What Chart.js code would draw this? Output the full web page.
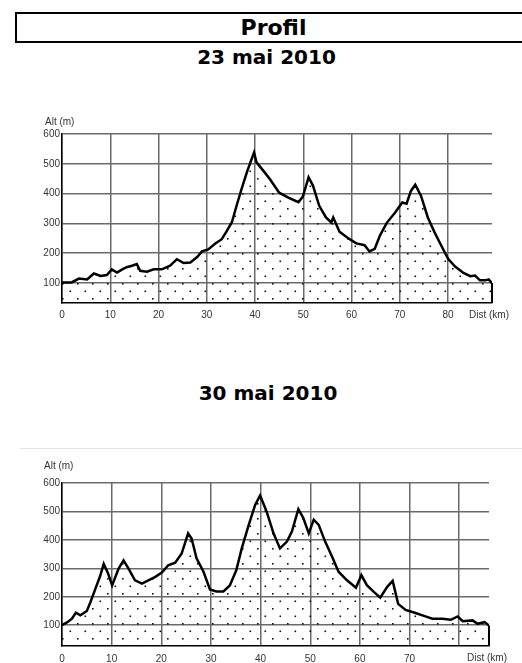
<!DOCTYPE html>
<html>
<head>
<meta charset="utf-8">
<script src="https://cdn.jsdelivr.net/npm/chart.js@4/dist/chart.umd.min.js"></script>
<style>
body{margin:0;background:#fff;width:522px;height:663px;position:relative;overflow:hidden;font-family:"DejaVu Sans",Verdana,sans-serif}
.box{position:absolute;left:15px;top:12px;width:520px;height:27px;border:2px solid #000}
.t{position:absolute;font-weight:bold;text-align:center;white-space:nowrap;width:300px}
.sep{position:absolute;left:20px;top:448px;width:502px;height:1px;background:#e3e3e3}
.wrap{position:absolute;left:0;width:522px}
</style>
</head>
<body>
<div class="box"></div>
<div class="t" style="left:123.5px;top:17px;font-size:22px;line-height:22px">Profil</div>
<div class="t" style="left:116.5px;top:47px;font-size:20px;line-height:20px">23 mai 2010</div>
<div class="sep"></div>
<div class="t" style="left:118px;top:383px;font-size:20px;line-height:20px">30 mai 2010</div>
<div class="wrap" style="top:100px;height:230px"><canvas id="c1" width="522" height="230"></canvas></div>
<div class="wrap" style="top:440px;height:223px"><canvas id="c2" width="522" height="223"></canvas></div>
<script>
// 23 mai 2010
const distA = [0, 2, 3.5, 5.2, 6.6, 8, 9.3, 10.3, 11.4, 12.4, 13.4, 14.5, 15.5, 16.2, 17.6, 19, 20.7, 22.4, 23.8, 25.2, 26.6, 28, 29, 30.3, 31.7, 33.1, 34.1, 35.2, 36.2, 37.2, 38.3, 39.3, 39.8, 40.3, 41.7, 43.1, 45, 47, 49, 49.9, 51.1, 52, 53.3, 54.7, 55.8, 56.2, 57.5, 59.3, 61, 62.7, 63.7, 64.8, 65.9, 67.3, 69, 70.5, 71.4, 72.3, 73.2, 74.4, 75.8, 77.2, 78.6, 80, 81.4, 83.2, 84.6, 85.6, 86.6, 87.7, 88.4, 89.1];
const altA = [102, 102, 115, 112, 132, 124, 127, 146, 135, 145, 153, 158, 164, 141, 138, 146, 146, 158, 180, 167, 169, 187, 206, 213, 232, 247, 273, 304, 361, 415, 471, 516, 538, 505, 477, 448, 403, 386, 371, 390, 455, 427, 359, 320, 303, 320, 272, 250, 233, 227, 206, 215, 260, 302, 336, 370, 366, 409, 430, 392, 320, 270, 225, 181, 156, 134, 123, 125, 109, 109, 112, 100];

// 30 mai 2010
const distB = [0, 1, 2, 2.8, 3.7, 5, 5.7, 6.7, 7.7, 8.4, 9.3, 10.1, 11.4, 12.4, 13.4, 14.7, 16.1, 17.4, 18.8, 20.1, 21.4, 22.8, 24.1, 25.4, 26.1, 27.1, 28.5, 29.8, 31.1, 32.5, 33.8, 35.1, 36.2, 37.5, 38.9, 39.9, 41.2, 42.6, 43.9, 45.3, 46.3, 47.6, 48.6, 49.7, 50.7, 51.7, 53, 54.4, 55.7, 57.4, 59.2, 60.3, 61.4, 62.8, 64.1, 65.5, 66.6, 67.7, 69.2, 71.2, 73.2, 74.6, 76.6, 78.3, 79.7, 80.7, 82.7, 83.7, 85.1, 86];
const altB = [100, 110, 123, 144, 135, 150, 180, 227, 274, 316, 281, 240, 299, 328, 299, 258, 246, 258, 270, 285, 311, 320, 352, 423, 405, 335, 288, 226, 219, 219, 240, 293, 370, 447, 523, 556, 500, 423, 370, 394, 429, 508, 477, 423, 471, 453, 394, 341, 288, 258, 232, 276, 241, 217, 197, 235, 256, 175, 154, 143, 131, 123, 123, 119, 131, 114, 117, 105, 111, 99];

const xTicks = [0, 10, 20, 30, 40, 50, 60, 70, 80];
const yTicks = [100, 200, 300, 400, 500, 600];

function dots(ctx) {
  const c = document.createElement('canvas');
  c.width = 15; c.height = 15;
  const g = c.getContext('2d');
  g.fillStyle = '#111';
  g.fillRect(2, 3, 1.6, 1.6);
  g.fillRect(9.5, 10.5, 1.6, 1.6);
  return ctx.createPattern(c, 'repeat');
}

const extras = {
  id: 'extras',
  afterDatasetsDraw(chart, args, o) {
    const ctx = chart.ctx, a = chart.chartArea;
    const pts = chart.getDatasetMeta(0).data;
    const last = pts[pts.length - 1];
    ctx.save();
    ctx.strokeStyle = '#000';
    ctx.lineWidth = 2;
    ctx.beginPath();
    ctx.moveTo(last.x, last.y);
    ctx.lineTo(last.x, a.bottom);
    ctx.stroke();
    ctx.fillStyle = '#333';
    ctx.font = '10px "Liberation Sans", Arial';
    ctx.fillText('Alt (m)', o.altX, o.altY);
    ctx.fillText('Dist (km)', o.distX, o.distY);
    ctx.restore();
  }
};

function makeChart(id, dist, alt, opt) {
  const ctx = document.getElementById(id).getContext('2d');
  return new Chart(ctx, {
    type: 'line',
    data: {
      datasets: [{
        data: dist.map((d, i) => ({x: d, y: alt[i]})),
        borderColor: '#000',
        borderWidth: 2.5,
        backgroundColor: dots(ctx),
        fill: 'start',
        pointRadius: 0,
        tension: 0
      }]
    },
    options: {
      responsive: false,
      animation: false,
      events: [],
      layout: {padding: opt.padding},
      plugins: {legend: {display: false}, tooltip: {enabled: false}, extras: opt.extras},
      scales: {
        x: {
          type: 'linear',
          min: 0,
          max: dist[dist.length - 1],
          afterBuildTicks: ax => { ax.ticks = xTicks.map(v => ({value: v})); },
          afterFit: ax => { ax.height = opt.xh; },
          grid: {color: '#6a6a6a', lineWidth: 1.5, drawTicks: false},
          border: {color: '#000', width: 1.5},
          ticks: {
            padding: opt.xpad,
            color: '#333',
            font: {family: '"Liberation Sans", Arial', size: 10},
            maxRotation: 0,
            callback: v => opt.hide80 && v === 80 ? '' : v
          }
        },
        y: {
          min: opt.ymin,
          max: 600,
          afterBuildTicks: ax => { ax.ticks = yTicks.map(v => ({value: v})); },
          afterFit: ax => { ax.width = 62; },
          grid: {color: '#6a6a6a', lineWidth: 1.5, drawTicks: false},
          border: {color: '#000', width: 1.5},
          ticks: {
            padding: 2,
            color: '#333',
            font: {family: '"Liberation Sans", Arial', size: 10}
          }
        }
      }
    },
    plugins: [extras]
  });
}

makeChart('c1', distA, altA, {
  padding: {left: 0, right: 30, top: 34, bottom: 7},
  xh: 20, xpad: 6, ymin: 33, hide80: false,
  extras: {altX: 45, altY: 25, distX: 469, distY: 218}
});

makeChart('c2', distB, altB, {
  padding: {left: 0, right: 33, top: 43, bottom: 0},
  xh: 17, xpad: 7, ymin: 27, hide80: true,
  extras: {altX: 44, altY: 29, distX: 467, distY: 221}
});
</script>
</body>
</html>
